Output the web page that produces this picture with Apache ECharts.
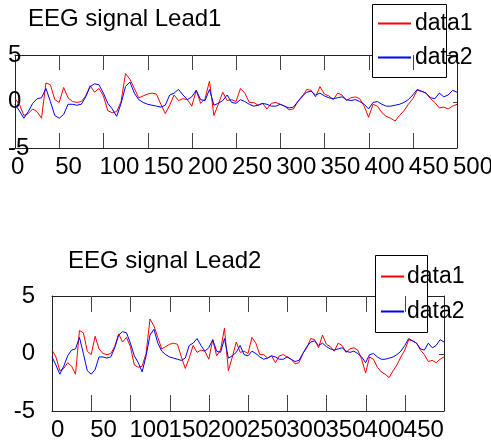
<!DOCTYPE html>
<html>
<head>
<meta charset="utf-8">
<script src="https://cdn.jsdelivr.net/npm/echarts@6/dist/echarts.min.js"></script>
<style>
html, body { margin: 0; padding: 0; background: #fff; }
#container { width: 491px; height: 443px; }
</style>
</head>
<body>
<div id="container"></div>
<script>
// sample spacing of the values below (x runs 0..500)
var step = 5;

// red trace (data1), read every 5 samples
var data1 = [0.3, -0.3, -1.5, -1.3, -0.8, -1.1, -1.8, 2.0, 1.8, 0.2,
    -0.1, 1.5, 0.4, 0.0, -0.1, 0.0, 0.6, 1.7, 1.0, 1.4,
    0.6, -1.0, -1.2, -1.1, 0.0, 3.0, 2.4, 1.4, 0.4, 0.6,
    0.8, 0.9, 0.8, -0.3, -1.3, -0.4, 0.7, 0.1, 0.3, 0.2,
    -0.5, 1.2, -0.2, 0.3, 2.2, -1.5, -0.3, 1.0, 0.1, 0.2,
    0.0, 1.4, 0.9, -0.1, -0.1, -0.4, -0.2, -0.8, -0.2, -0.1,
    -0.3, -0.5, -0.9, -0.8, 0.0, 0.5, 1.3, 1.2, 0.5, 1.6,
    0.8, 0.6, 0.2, 0.9, 0.7, 0.1, 0.4, 0.5, 0.3, -0.5,
    -1.7, -0.3, -0.5, -1.2, -1.6, -1.8, -2.1, -1.5, -1.0, -0.3,
    0.3, 1.2, 1.1, 0.9, 0.3, -0.1, -0.7, -0.6, -0.8, -0.5,
    -0.3];

// blue trace (data2)
var data2 = [-0.3, -1.0, -1.8, -1.1, -0.2, 0.3, 0.4, 1.4, 0.0, -1.5,
    -1.8, -1.4, -0.3, -0.3, -0.4, -0.3, 0.5, 1.6, 1.9, 1.8,
    0.9, -0.2, -0.8, -1.6, -0.2, 1.6, 2.1, 0.9, 0.2, -0.1,
    -0.3, -0.4, -0.5, -0.6, -0.4, 0.7, 0.9, 1.3, 0.7, 0.2,
    0.5, 1.2, 0.2, 0.1, 1.3, -0.4, -0.2, 0.1, 0.7, -0.1,
    -0.2, 0.2, 0.0, -0.3, -0.5, -0.4, -0.2, -0.3, -0.5, -0.5,
    -0.3, -0.5, -0.7, -0.6, 0.0, 0.6, 1.0, 1.1, 0.7, 0.9,
    0.6, 0.4, 0.3, 0.4, 0.5, 0.2, 0.1, 0.2, 0.0, -0.3,
    -0.8, -0.1, 0.0, -0.3, -0.5, -0.5, -0.4, -0.3, -0.1, 0.2,
    0.7, 1.3, 1.1, 0.9, 0.4, 0.3, 0.9, 0.5, 0.7, 1.2,
    1.0];

var titles = ['EEG signal Lead1', 'EEG signal Lead2'];
var names = ['data1', 'data2'];
// inner tick positions (the ends sit on the frame)
var xTicks = [50, 100, 150, 200, 250, 300, 350, 400, 450];
var yTicks = [0];

var font = 'Liberation Sans, Arial, sans-serif';
var lineCol = '#222';
var tickCol = '#444';

function pts(arr) {
    return arr.map(function (v, i) { return [i * step, v]; });
}

// inward tick marks drawn with a custom series, placed via the axes
// kind 0 = x tick (top and bottom edges), kind 1 = y tick on the right edge
function tickSeries(ai, lenX, lenY) {
    var d = xTicks.map(function (t) { return [t, 0, 0]; })
        .concat(yTicks.map(function (v) { return [500, v, 1]; }));
    return {
        type: 'custom', xAxisIndex: ai, yAxisIndex: ai, data: d,
        encode: {x: 0, y: 1}, silent: true, z: 3, clip: false,
        renderItem: function (params, api) {
            var st = {stroke: tickCol, lineWidth: 1, fill: null};
            if (api.value(2) === 0) {
                var b = api.coord([api.value(0), -5]);
                var t = api.coord([api.value(0), 5]);
                var x = Math.round(b[0]) + 0.5;
                return {type: 'group', children: [
                    {type: 'line', shape: {x1: x, y1: b[1], x2: x, y2: b[1] - lenX}, style: st},
                    {type: 'line', shape: {x1: x, y1: t[1], x2: x, y2: t[1] + lenX}, style: st}
                ]};
            }
            var p = api.coord([500, api.value(1)]);
            var y = Math.round(p[1]) + 0.5;
            return {type: 'line', shape: {x1: p[0] - lenY, y1: y, x2: p[0], y2: y}, style: st};
        }
    };
}

function xAx(gi, pos, labels, margin, shift) {
    return {
        type: 'value', gridIndex: gi, position: pos,
        min: 0, max: 500, interval: 50,
        axisLine: {show: true, onZero: false, lineStyle: {color: lineCol, width: 1}},
        axisTick: {show: false},
        axisLabel: {show: labels, align: 'left', margin: margin, hideOverlap: false,
            padding: [0, 0, 0, shift || 0],
            fontFamily: font, fontSize: 24, color: '#000'},
        splitLine: {show: false}
    };
}

function yAx(gi, pos, labels, align, margin) {
    return {
        type: 'value', gridIndex: gi, position: pos,
        min: -5, max: 5, interval: 5,
        axisLine: {show: true, onZero: false, lineStyle: {color: lineCol, width: 1}},
        axisTick: {show: false},
        axisLabel: {show: labels, align: align, margin: margin,
            fontFamily: font, fontSize: 24, color: '#000'},
        splitLine: {show: false}
    };
}

var dom = document.getElementById('container');
var myChart = echarts.init(dom);

var option = {
    animation: false,
    backgroundColor: '#fff',
    title: [
        {text: titles[0], left: 23, top: 2,
            textStyle: {fontFamily: font, fontSize: 24, fontWeight: 'normal', color: '#000'}},
        {text: titles[1], left: 63, top: 244,
            textStyle: {fontFamily: font, fontSize: 24, fontWeight: 'normal', color: '#000'}}
    ],
    grid: [
        {left: 15, top: 55, width: 442, height: 93, containLabel: false, outerBoundsMode: 'none'},
        {left: 52, top: 296, width: 392, height: 115, containLabel: false, outerBoundsMode: 'none'}
    ],
    xAxis: [
        xAx(0, 'bottom', true, 7, -4),
        xAx(0, 'top', false, 0),
        xAx(1, 'bottom', true, 7, -1),
        xAx(1, 'top', false, 0)
    ],
    yAxis: [
        yAx(0, 'left', true, 'left', 7),
        yAx(0, 'right', false, 'left', 0),
        yAx(1, 'left', true, 'right', 17),
        yAx(1, 'right', false, 'left', 0)
    ],
    graphic: [
        {type: 'rect', z: 3, shape: {x: 372.5, y: 4.5, width: 74, height: 73},
            style: {fill: '#fff', stroke: '#000', lineWidth: 1}},
        {type: 'rect', z: 3, shape: {x: 375.5, y: 255.5, width: 52, height: 77},
            style: {fill: '#fff', stroke: '#000', lineWidth: 1}}
    ],
    legend: [
        {data: names, orient: 'vertical', left: 377, top: 12, padding: 0,
            itemWidth: 33, itemHeight: 0, itemGap: 11, itemStyle: {opacity: 0}, z: 5,
            textStyle: {fontFamily: font, fontSize: 23, color: '#000', padding: [4, 0, 0, -1]}},
        {data: names, orient: 'vertical', left: 380, top: 265, padding: 0,
            itemWidth: 23, itemHeight: 0, itemGap: 12, itemStyle: {opacity: 0}, z: 5,
            textStyle: {fontFamily: font, fontSize: 23, color: '#000', padding: [4, 0, 0, -2]}}
    ],
    series: [
        tickSeries(0, 15, 4),
        tickSeries(2, 16, 5),
        {name: names[0], type: 'line', xAxisIndex: 0, yAxisIndex: 0, data: pts(data1),
            symbol: 'none', lineStyle: {color: '#ff0000', width: 1}, itemStyle: {color: '#ff0000'}},
        {name: names[1], type: 'line', xAxisIndex: 0, yAxisIndex: 0, data: pts(data2),
            symbol: 'none', lineStyle: {color: '#0000ff', width: 1}, itemStyle: {color: '#0000ff'}},
        {name: names[0], type: 'line', xAxisIndex: 2, yAxisIndex: 2, data: pts(data1),
            symbol: 'none', lineStyle: {color: '#ff0000', width: 1}, itemStyle: {color: '#ff0000'}},
        {name: names[1], type: 'line', xAxisIndex: 2, yAxisIndex: 2, data: pts(data2),
            symbol: 'none', lineStyle: {color: '#0000ff', width: 1}, itemStyle: {color: '#0000ff'}}
    ]
};

if (option && typeof option === 'object') {
    myChart.setOption(option, true);
}
</script>
</body>
</html>
